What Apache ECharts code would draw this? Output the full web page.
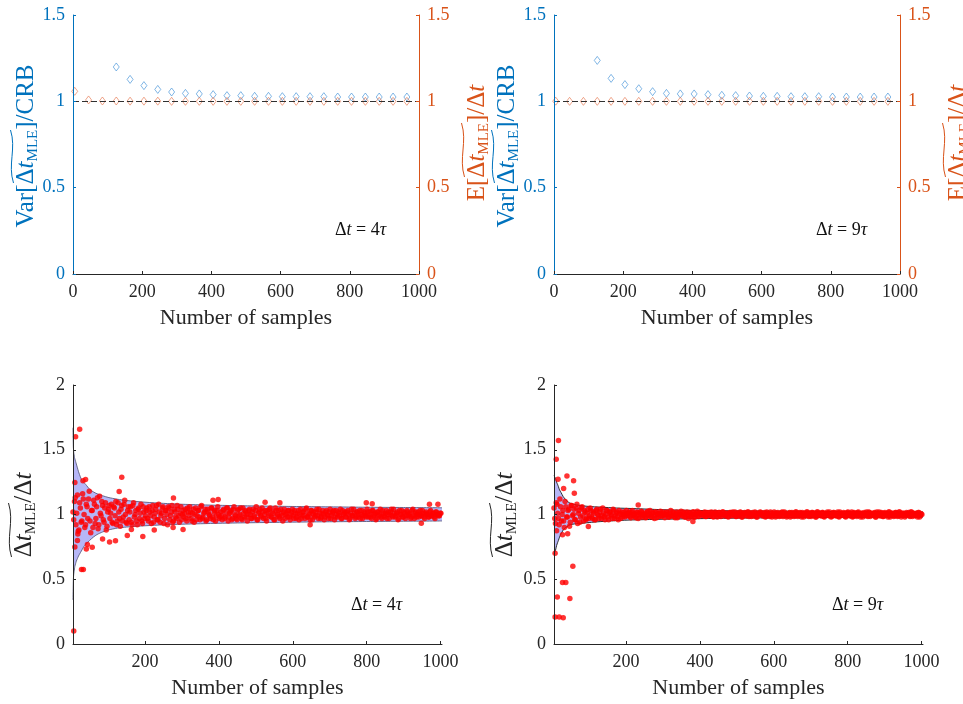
<!DOCTYPE html>
<html><head><meta charset="utf-8">
<script src="https://cdn.jsdelivr.net/npm/echarts@6/dist/echarts.min.js"></script>
<style>html,body{margin:0;padding:0;background:#fff}#c{width:963px;height:704px}</style>
</head><body><div id="c"></div>
<script>
// ---------- DATA ----------
const xTicksTop = [0, 200, 400, 600, 800, 1000];
const xTicksBottom = [200, 400, 600, 800, 1000];
const yTicksTop = [0, 0.5, 1, 1.5];
const yTicksBottom = [0, 0.5, 1, 1.5, 2];

// top panels: samples at which statistics were computed
const meanSamples = [5,45,85,125,165,205,245,285,325,365,405,445,485,525,565,605,645,685,725,765,805,845,885,925,965];
const varSamples = [125,165,205,245,285,325,365,405,445,485,525,565,605,645,685,725,765,805,845,885,925,965];

// Δt = 4τ
const varRatio4 = [1.199,1.127,1.091,1.069,1.054,1.046,1.043,1.039,1.033,1.033,1.029,1.029,1.027,1.027,1.027,1.027,1.025,1.025,1.025,1.025,1.025,1.025];
const meanRatio4 = [1.058,1.008,1.002,1.002,1.001,1.001,1.001,1.0,1.0,1.0,1.0,1.0,1.0,1.0,1.0,1.0,1.0,1.0,1.0,1.0,1.0,1.0,1.0,1.0,1.0];
// Δt = 9τ
const varRatio9 = [1.237,1.133,1.097,1.073,1.056,1.046,1.043,1.043,1.039,1.035,1.033,1.031,1.029,1.029,1.027,1.027,1.027,1.025,1.025,1.025,1.025,1.025];
const meanRatio9 = [1.001,1.0,1.0,1.0,1.0,1.0,1.0,1.0,1.0,1.0,1.0,1.0,1.0,1.0,1.0,1.0,1.0,1.0,1.0,1.0,1.0,1.0,1.0,1.0,1.0];

// bottom panels: CRB band
const bandSamples4 = [5,6,7,8,9,10,12,14,17,20,25,30,35,40,50,60,70,85,100,125,150,200,250,300,400,500,600,700,800,900,1004];
const bandUpper4 = [1.67,1.52,1.48,1.46,1.44,1.43,1.41,1.39,1.36,1.33,1.29,1.26,1.245,1.23,1.195,1.175,1.16,1.145,1.132,1.118,1.108,1.095,1.086,1.079,1.071,1.066,1.062,1.059,1.056,1.054,1.052];
const bandLower4 = [0.34,0.50,0.54,0.56,0.58,0.60,0.62,0.64,0.66,0.68,0.705,0.73,0.755,0.77,0.80,0.825,0.845,0.865,0.88,0.895,0.903,0.913,0.92,0.925,0.932,0.937,0.941,0.944,0.946,0.948,0.950];
const bandSamples9 = [5,6,8,10,12,15,17,20,24,30,35,40,48,60,72,84,100,130,175,218,310,400,500,600,700,800,900,1004];
const bandUpper9 = [1.30,1.295,1.285,1.27,1.25,1.23,1.215,1.19,1.17,1.138,1.12,1.105,1.088,1.078,1.072,1.067,1.062,1.057,1.05,1.046,1.036,1.031,1.028,1.026,1.024,1.022,1.021,1.020];
const bandLower9 = [0.70,0.705,0.714,0.735,0.76,0.785,0.80,0.825,0.85,0.88,0.895,0.905,0.92,0.927,0.93,0.933,0.938,0.945,0.953,0.958,0.964,0.968,0.972,0.974,0.976,0.978,0.979,0.980];

// bottom panels: individual estimates, set A at samples 5, 9, 13, ... ; set B at 7, 11, 15, ...
const estStep = 4, estStartA = 5, estStartB = 7;
const estimates4A = [
1.02,1.10,0.92,1.15,0.88,1.05,0.95,1.12,0.90,1.08,0.97,1.18,0.86,1.03,1.11,0.93,1.06,0.89,1.14,0.99,1.07,0.94,1.09,0.91,1.04,
0.97,1.08,0.93,1.05,1.10,0.95,1.02,0.91,1.07,0.98,1.11,0.94,1.03,0.96,1.06,0.92,1.09,1.00,0.95,1.04,0.97,1.08,0.93,1.02,0.99,
1.05,0.95,1.02,0.93,1.07,0.98,1.04,0.96,1.08,0.94,1.01,1.06,0.97,1.03,0.92,1.05,0.99,1.07,0.95,1.02,0.97,1.04,0.94,1.06,1.00,
0.98,1.04,0.95,1.02,1.06,0.97,1.01,0.94,1.05,0.99,1.03,0.96,1.07,0.98,1.02,0.95,1.04,1.00,0.97,1.05,0.96,1.03,0.99,1.06,0.97,
1.02,0.96,1.04,0.98,1.05,0.95,1.01,1.03,0.97,1.06,0.99,0.96,1.04,1.00,0.97,1.05,0.98,1.02,0.95,1.03,1.00,0.97,1.04,0.98,1.06,
0.96,1.02,0.99,1.05,0.97,1.03,0.95,1.01,1.04,0.98,1.02,0.96,1.05,0.99,1.03,0.97,1.01,0.95,1.04,1.00,0.98,1.03,0.96,1.02,0.99,
1.03,0.97,1.01,0.96,1.04,0.99,1.02,0.97,1.05,0.98,1.00,1.03,0.96,1.02,0.99,1.04,0.97,1.01,0.98,1.03,0.96,1.02,1.00,0.97,1.04,
0.99,1.02,0.96,1.03,0.98,1.01,1.04,0.97,1.00,1.02,0.98,1.03,0.96,1.01,0.99,1.04,0.97,1.02,0.98,1.03,1.00,0.97,1.02,0.99,1.04,
0.98,1.02,0.97,1.03,1.00,0.96,1.02,0.99,1.04,0.97,1.01,0.98,1.03,1.00,0.97,1.02,0.99,1.04,0.98,1.01,0.96,1.03,1.00,0.98,1.02,
0.97,1.03,0.99,1.01,0.98,1.04,0.97,1.02,1.00,0.98,1.03,0.99,1.01,0.97,1.02,1.00,0.98,1.03,0.99,1.01,0.97,1.02,1.00,0.99,1.01];
const estimates4B = [
0.96,1.13,1.01,0.87,1.09,0.94,1.16,1.00,0.92,1.06,1.12,0.95,1.03,0.90,1.08,0.97,1.13,0.92,1.01,1.10,0.96,1.05,0.88,1.02,1.07,
1.01,0.94,1.06,0.99,0.92,1.09,0.97,1.04,0.95,1.08,1.00,0.93,1.06,1.02,0.94,1.07,0.98,1.03,0.92,1.05,1.01,0.95,1.06,0.97,1.03,
0.97,1.06,0.99,1.03,0.94,1.01,1.07,0.96,1.02,0.99,1.05,0.93,1.03,1.00,1.06,0.96,1.02,0.94,1.04,0.98,1.07,0.99,1.01,0.96,1.03,
1.01,0.97,1.05,0.99,1.02,0.95,1.04,1.00,0.96,1.03,0.98,1.06,0.97,1.01,1.04,0.96,1.02,0.99,1.05,0.98,1.02,0.95,1.03,1.00,0.98,
0.99,1.03,0.97,1.01,1.05,0.98,1.02,0.96,1.04,1.00,0.97,1.03,0.99,1.05,0.96,1.01,1.03,0.98,1.00,1.04,0.97,1.02,0.99,1.03,0.96,
1.01,1.04,0.98,1.02,1.00,0.97,1.03,0.99,1.05,0.98,1.01,0.96,1.03,1.00,0.98,1.04,0.99,1.02,0.97,1.01,1.03,0.98,1.00,1.04,0.97,
1.01,0.98,1.03,1.00,0.97,1.02,0.99,1.04,0.98,1.01,0.96,1.03,1.00,0.98,1.02,0.99,1.04,0.97,1.01,1.00,0.98,1.03,0.99,1.02,0.97,
1.01,1.03,0.98,1.00,1.02,0.99,0.97,1.03,1.01,0.98,1.02,1.00,0.97,1.04,0.99,1.01,0.98,1.02,1.00,0.97,1.03,0.99,1.01,0.98,1.02,
1.00,0.98,1.03,0.99,1.01,0.97,1.02,1.00,0.98,1.03,0.99,1.01,0.97,1.02,1.00,1.04,0.98,1.01,0.99,1.02,0.97,1.00,1.03,0.98,1.01,
0.99,1.02,1.00,0.97,1.03,0.99,1.01,0.98,1.02,1.00,0.99,1.03,0.98,1.01,1.00,0.98,1.02,0.99,1.01,0.98,1.02,1.00,0.99,1.01];
const estimates9A = [
1.05,0.93,1.08,0.97,1.12,0.95,1.03,0.90,1.06,0.98,1.04,0.94,1.07,1.00,0.96,1.05,0.93,1.03,0.98,1.06,0.95,1.02,0.97,1.04,0.99,
1.03,0.97,1.01,0.96,1.04,0.99,1.02,0.97,1.05,0.98,1.00,1.03,0.96,1.02,0.99,1.04,0.97,1.01,0.98,1.03,0.97,1.02,1.00,0.98,1.03,
0.99,1.02,0.975,1.03,1.00,0.98,1.02,0.97,1.01,1.025,0.98,1.00,0.975,1.02,0.99,1.03,0.98,1.01,0.97,1.02,1.00,0.985,1.025,0.99,1.01,
0.975,1.02,1.00,0.98,1.03,0.99,1.01,0.975,1.02,0.985,1.00,1.025,0.99,1.01,0.98,1.02,0.97,1.01,0.99,1.02,0.98,1.00,1.025,0.985,1.01,
1.01,0.99,1.02,0.985,1.00,1.015,0.99,1.01,0.98,1.02,1.00,0.99,1.015,0.985,1.02,1.00,0.99,1.01,0.98,1.015,
0.995,1.02,1.00,0.985,1.01,0.99,1.02,0.98,1.005,1.015,0.99,1.02,0.985,1.01,1.00,0.99,1.02,0.98,1.01,1.00,
1.015,0.99,1.005,0.98,1.02,1.00,0.985,1.01,0.995,1.02,0.98,1.01,1.00,0.99,1.015,0.985,1.02,1.00,0.99,1.01,
0.98,1.015,1.00,0.99,1.02,0.985,1.01,0.995,1.015,0.98,1.00,1.02,0.99,1.01,0.985,1.015,1.00,0.98,1.02,0.995,
1.01,0.99,1.015,0.98,1.005,1.02,0.99,1.00,0.985,1.015,1.00,0.99,1.02,0.98,1.01,0.995,1.015,0.985,1.00,1.02,
0.99,1.01,0.98,1.015,1.00,0.985,1.02,0.995,1.01,0.98,1.015,1.00,0.99,1.02,0.985,1.01,0.995,1.015,0.98,1.00,
1.02,0.99,1.01,0.985,1.015,1.00,0.98,1.02,0.995,1.01,0.985,1.015,1.00,0.99,1.02,0.98,1.01,1.00,0.99,1.005,
1.015,0.985,1.02,1.00,0.99,1.01,0.98,1.015,0.995,1.00];
const estimates9B = [
0.97,1.09,1.01,0.92,1.06,1.00,0.95,1.10,0.98,1.03,0.91,1.07,0.99,1.04,0.96,1.08,1.01,0.94,1.05,0.99,1.03,0.96,1.01,0.97,1.05,
0.98,1.02,0.96,1.03,1.00,0.97,1.04,0.99,1.01,0.96,1.03,0.98,1.02,1.00,0.97,1.03,0.99,1.02,0.96,1.01,1.00,0.98,1.02,0.99,1.01,
1.01,0.985,1.02,0.99,1.005,0.975,1.015,1.00,0.98,1.02,0.995,1.01,0.98,1.025,1.00,0.985,1.015,0.99,1.02,0.975,1.005,1.01,0.985,1.02,0.995,
1.00,1.015,0.98,1.01,0.99,1.02,0.985,1.005,0.975,1.015,1.00,0.99,1.02,0.98,1.01,0.995,1.015,0.985,1.00,1.02,0.98,1.01,0.99,1.015,1.00,
0.995,1.01,0.985,1.015,1.00,0.99,1.02,0.985,1.005,1.01,0.98,1.015,0.995,1.00,1.02,0.99,1.01,0.985,1.005,1.015,
0.99,1.00,1.02,0.985,1.01,0.995,1.015,0.98,1.005,1.01,0.99,1.02,1.00,0.985,1.015,0.995,1.01,0.98,1.005,1.02,
1.00,0.99,1.015,0.985,1.01,0.995,1.02,0.98,1.00,1.01,0.99,1.015,0.985,1.005,1.02,0.995,1.01,0.98,1.00,1.015,
0.99,1.01,0.985,1.02,1.00,0.995,1.015,0.98,1.005,1.01,0.99,1.02,0.985,1.00,1.015,0.995,1.01,0.98,1.02,1.00,
0.99,1.015,0.985,1.005,1.01,0.995,1.02,0.98,1.00,1.015,0.99,1.01,0.985,1.02,1.005,0.995,1.01,0.98,1.015,1.00,
0.99,1.02,0.985,1.01,0.995,1.015,1.00,0.98,1.01,1.005,0.99,1.02,0.985,1.015,1.00,0.995,1.01,0.98,1.02,1.00,
0.99,1.015,0.985,1.01,1.005,0.995,1.02,0.98,1.01,1.00,0.99,1.015,0.985,1.02,1.00,0.995,1.01,0.98,1.015,1.005,
0.99,1.02,0.985,1.01,1.00,0.995,1.015,0.98,1.005];

// outlying estimates (sample count, value)
const outlierSamples4 = [23,12,10,32,39,137,130,7,28,33,10,41,44,57,17,18,104,120,85,152,194,277,384,398,525,565,799,815,970,993,948,647,276,303,225,163];
const outlierValues4 = [1.658,1.60,1.247,1.26,1.27,1.287,1.178,0.10,0.575,0.575,0.75,0.733,0.768,0.748,0.80,0.85,0.787,0.797,0.81,0.838,0.83,1.128,1.11,1.115,1.095,1.09,1.09,1.083,1.08,1.08,0.933,0.92,0.90,0.885,0.88,0.885];
const outlierSamples9 = [17,11,16,40,58,60,31,8,56,28,37,14,48,8,19,30,12,28,42,98,233,381];
const outlierValues9 = [1.571,1.427,1.273,1.298,1.26,1.165,1.20,0.70,0.60,0.475,0.475,0.362,0.352,0.208,0.208,0.203,0.874,0.843,0.851,0.907,1.074,0.946];

// ---------- STYLE ----------
const FONT = "'Liberation Serif','Times New Roman',serif";
const BLUE = '#0072BD', ORANGE = '#D95319', DARK = '#262626';
const grids = [
  {left: 73, top: 15, width: 346, height: 259},
  {left: 554, top: 15, width: 346, height: 259},
  {left: 73, top: 385, width: 369, height: 259},
  {left: 554, top: 385, width: 369, height: 259}
];
const numFmt = v => String(v);

function pairs(xs, ys) { return xs.map((x, i) => [x, ys[i]]); }
function estPairs(vals, start) { return vals.map((v, i) => [start + estStep * i, v]); }

function xAxisTop(gi) {
  return {
    type: 'value', gridIndex: gi, min: 0, max: 1000, interval: 200,
    name: 'Number of samples', nameLocation: 'middle', nameGap: 33,
    nameTextStyle: {fontFamily: FONT, fontSize: 22, color: DARK},
    axisLine: {show: true, onZero: false, lineStyle: {color: DARK, width: 1}},
    axisTick: {show: true, inside: true, length: 3, lineStyle: {color: DARK}},
    axisLabel: {fontFamily: FONT, fontSize: 18, color: DARK, margin: 9, formatter: numFmt},
    splitLine: {show: false}, z: 5
  };
}
function xAxisBottom(gi) {
  return {
    type: 'value', gridIndex: gi, min: 5, max: 1004,
    name: 'Number of samples', nameLocation: 'middle', nameGap: 33,
    nameTextStyle: {fontFamily: FONT, fontSize: 22, color: DARK},
    axisLine: {show: true, onZero: false, lineStyle: {color: DARK, width: 1}},
    axisTick: {show: true, inside: true, length: 3, customValues: xTicksBottom, lineStyle: {color: DARK}},
    axisLabel: {fontFamily: FONT, fontSize: 18, color: DARK, margin: 9, customValues: xTicksBottom, formatter: numFmt},
    splitLine: {show: false}, z: 5
  };
}
function yAxisTop(gi, pos, color) {
  return {
    type: 'value', gridIndex: gi, position: pos, min: 0, max: 1.5, interval: 0.5,
    axisLine: {show: true, onZero: false, lineStyle: {color: color, width: 1}},
    axisTick: {show: true, inside: true, length: 3, lineStyle: {color: color}},
    axisLabel: {fontFamily: FONT, fontSize: 18, color: color, margin: 8, formatter: numFmt},
    splitLine: {show: false}, z: 5
  };
}
function yAxisBottom(gi) {
  return {
    type: 'value', gridIndex: gi, min: 0, max: 2, interval: 0.5,
    axisLine: {show: true, onZero: false, lineStyle: {color: DARK, width: 1}},
    axisTick: {show: true, inside: true, length: 3, lineStyle: {color: DARK}},
    axisLabel: {fontFamily: FONT, fontSize: 18, color: DARK, margin: 8, formatter: numFmt},
    splitLine: {show: false}, z: 5
  };
}

function diamond(xi, yi, data, color) {
  return {
    type: 'scatter', xAxisIndex: xi, yAxisIndex: yi, data: data,
    symbol: 'diamond', symbolSize: [6, 8], silent: true,
    itemStyle: {color: 'rgba(0,0,0,0)', borderColor: color, borderWidth: 0.8}, z: 3
  };
}
function dashedOne(xi, yi) {
  return {
    type: 'line', xAxisIndex: xi, yAxisIndex: yi, data: [], silent: true,
    markLine: {silent: true, symbol: ['none', 'none'], label: {show: false},
      lineStyle: {color: '#303030', type: [6, 3], width: 1}, data: [{yAxis: 1}]}, z: 2
  };
}
function bandSeries(xi, yi, xs, lo, up, edge) {
  return {
    type: 'custom', xAxisIndex: xi, yAxisIndex: yi, silent: true, z: 1,
    data: [[xs[0], lo[0]]],
    renderItem: function (params, api) {
      const upPts = xs.map((x, i) => api.coord([x, up[i]]));
      const loPts = xs.map((x, i) => api.coord([x, lo[i]]));
      return {
        type: 'group',
        children: [
          {type: 'polygon', shape: {points: upPts.concat(loPts.slice().reverse())}, style: {fill: '#b6b6f7', stroke: null}},
          {type: 'polyline', shape: {points: upPts, smooth: 0.25}, style: {stroke: edge, lineWidth: 0.9, fill: null}},
          {type: 'polyline', shape: {points: loPts, smooth: 0.25}, style: {stroke: edge, lineWidth: 0.9, fill: null}}
        ]
      };
    }
  };
}
function dots(xi, yi, data) {
  return {type: 'scatter', xAxisIndex: xi, yAxisIndex: yi, data: data, symbol: 'circle', symbolSize: 5.5,
    itemStyle: {color: '#ff0000'}, silent: true, z: 4};
}

// ---------- TEXT DECORATIONS ----------
function richBase(color, size) {
  return {
    n: {fontFamily: FONT, fontSize: size, fill: color, color: color, lineHeight: 30, verticalAlign: 'middle'},
    i: {fontFamily: FONT, fontSize: size, fontStyle: 'italic', fill: color, color: color, lineHeight: 30, verticalAlign: 'middle'},
    s: {fontFamily: FONT, fontSize: 15, fill: color, color: color, lineHeight: 13, verticalAlign: 'bottom'}
  };
}
function vLabel(cx, cy, text, color) {
  return {type: 'text', x: cx, y: cy, rotation: Math.PI / 2, silent: true,
    style: {text: text, fill: color, rich: richBase(color, 25), align: 'center', verticalAlign: 'middle'}};
}
function tilde(x0, yStart, yEnd, color) {
  const L = yStart - yEnd;
  return {type: 'bezierCurve', silent: true,
    shape: {x1: x0 + 1.5, y1: yStart, cpx1: x0 - 4.5, cpy1: yStart - L * 0.35, cpx2: x0 + 4.5, cpy2: yStart - L * 0.65, x2: x0 - 1.5, y2: yEnd},
    style: {stroke: color, lineWidth: 1, fill: null}};
}
function note(x, y, digit) {
  return {type: 'text', x: x, y: y, silent: true,
    style: {text: '{n|Δ}{i|t}{n| = ' + digit + '}{i|τ}', fill: '#111', align: 'left', verticalAlign: 'middle',
      rich: {n: {fontFamily: FONT, fontSize: 18, fill: '#111'}, i: {fontFamily: FONT, fontSize: 18, fontStyle: 'italic', fill: '#111'}}}};
}

const varText = '{n|Var[Δ}{i|t}{s|MLE}{n|]/CRB}';
const meanText = '{n|E[Δ}{i|t}{s|MLE}{n|]/Δ}{i|t}';
const estText = '{n|Δ}{i|t}{s|MLE}{n|/Δ}{i|t}';

const graphics = [
  vLabel(26, 146, varText, BLUE), tilde(12, 183, 130, BLUE),
  vLabel(477, 143, meanText, ORANGE), tilde(463, 177, 123, ORANGE),
  vLabel(507, 146, varText, BLUE), tilde(493, 183, 130, BLUE),
  vLabel(958, 143, meanText, ORANGE), tilde(944, 177, 123, ORANGE),
  vLabel(24, 515, estText, DARK), tilde(10, 557, 503, DARK),
  vLabel(505, 515, estText, DARK), tilde(491, 557, 503, DARK),
  note(335, 230, '4'), note(816, 230, '9'),
  note(351, 605, '4'), note(832, 605, '9')
];

// ---------- CHART ----------
const chart = echarts.init(document.getElementById('c'), null, {renderer: 'canvas'});
chart.setOption({
  animation: false,
  backgroundColor: '#ffffff',
  grid: grids,
  xAxis: [xAxisTop(0), xAxisTop(1), xAxisBottom(2), xAxisBottom(3)],
  yAxis: [yAxisTop(0, 'left', BLUE), yAxisTop(0, 'right', ORANGE), yAxisTop(1, 'left', BLUE), yAxisTop(1, 'right', ORANGE),
          yAxisBottom(2), yAxisBottom(3)],
  series: [
    dashedOne(0, 1), dashedOne(1, 3),
    diamond(0, 0, pairs(varSamples, varRatio4), '#3b8ed6'),
    diamond(0, 1, pairs(meanSamples, meanRatio4), '#e5734a'),
    diamond(1, 2, pairs(varSamples, varRatio9), '#3b8ed6'),
    diamond(1, 3, pairs(meanSamples, meanRatio9), '#e5734a'),
    bandSeries(2, 4, bandSamples4, bandLower4, bandUpper4, '#5c5c80'),
    bandSeries(3, 5, bandSamples9, bandLower9, bandUpper9, '#1a1a1a'),
    dots(2, 4, estPairs(estimates4A, estStartA)), dots(2, 4, estPairs(estimates4B, estStartB)),
    dots(2, 4, pairs(outlierSamples4, outlierValues4)),
    dots(3, 5, estPairs(estimates9A, estStartA)), dots(3, 5, estPairs(estimates9B, estStartB)),
    dots(3, 5, pairs(outlierSamples9, outlierValues9))
  ],
  graphic: graphics
});
</script>
</body></html>
